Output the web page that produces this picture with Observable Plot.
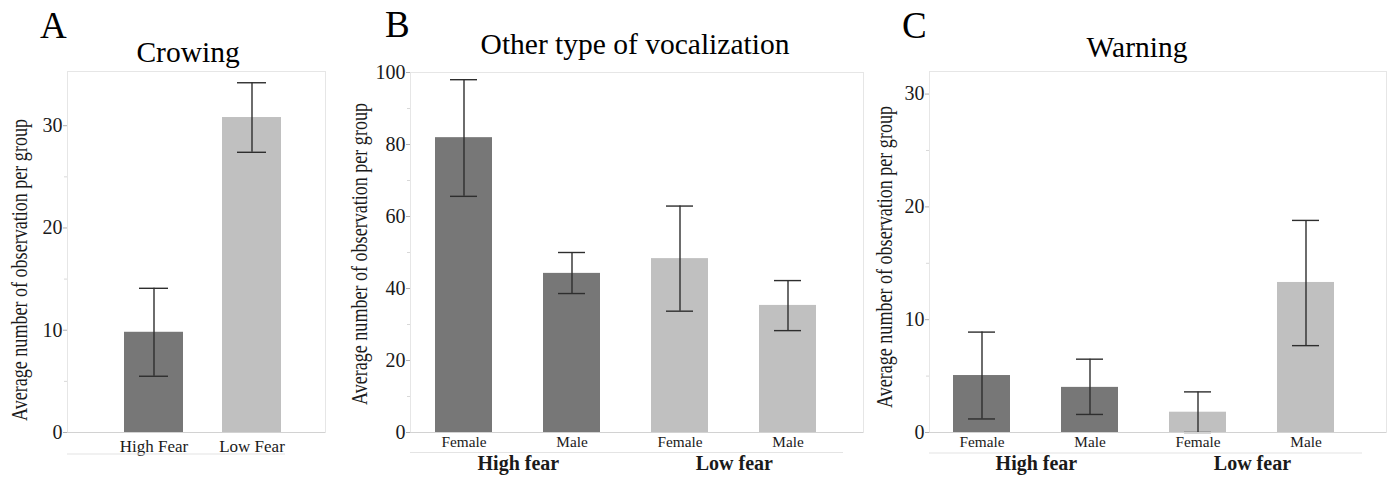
<!DOCTYPE html>
<html>
<head>
<meta charset="utf-8">
<script src="https://cdn.jsdelivr.net/npm/d3@7"></script>
<script src="https://cdn.jsdelivr.net/npm/@observablehq/plot@0.6"></script>
<style>
  html, body { margin: 0; padding: 0; background: #ffffff; }
  #root { position: relative; width: 1392px; height: 477px; overflow: hidden; background: #ffffff; }
  #root > svg { position: absolute; left: 0; top: 0; }
</style>
</head>
<body>
<div id="root"></div>
<script>
// ---------------- data ----------------
const panelLetters = ["A", "B", "C"];
const panelTitles = ["Crowing", "Other type of vocalization", "Warning"];
const yLabel = "Average number of observation per group";

// Panel A: Crowing
const crowingCats = ["High Fear", "Low Fear"];
const crowingFear = ["High", "Low"];
const crowingMean = [9.8, 30.8];
const crowingLow = [5.5, 27.4];
const crowingHigh = [14.1, 34.2];
const crowingTicks = [0, 10, 20, 30];
const crowingMinor = [5, 15, 25];

// Panels B and C: grouped by fear level and sex
const fearGroups = ["High fear", "Low fear"];
const sexes = ["Female", "Male"];

const otherMean = [81.9, 44.2, 48.3, 35.3];
const otherLow = [65.6, 38.6, 33.7, 28.3];
const otherHigh = [98.0, 50.0, 62.9, 42.2];
const otherTicks = [0, 20, 40, 60, 80, 100];
const otherMinor = [10, 30, 50, 70, 90];

const warningMean = [5.05, 4.0, 1.8, 13.3];
const warningLow = [1.2, 1.6, 0.0, 7.7];
const warningHigh = [8.9, 6.5, 3.6, 18.8];
const warningTicks = [0, 10, 20, 30];
const warningMinor = [5, 15, 25];

const fearShades = ["#777777", "#c0c0c0"];
// --------------------------------------

const W = 1392, H = 477;
const serif = "Liberation Serif, Times New Roman, serif";
const ink = "#1a1a1a";
const errColor = "#2e2e2e";

function groupedRows(mean, low, high) {
  const rows = [];
  fearGroups.forEach((g, gi) => sexes.forEach((s, si) => {
    const i = gi * sexes.length + si;
    rows.push({key: g + "|" + s, fear: g.split(" ")[0], sex: s, group: g, mean: mean[i], low: low[i], high: high[i]});
  }));
  return rows;
}

function makePanel(cfg) {
  const {rows, keys, yDomain, yTicks, yMinor, frame, xRange, paddingInner, capInset,
         xFont, xPad, tickFormat, groups} = cfg;
  const step = (xRange[1] - xRange[0]) / keys.length;
  const marks = [
    Plot.frame({stroke: "#e6e6e6"}),
    Plot.barY(rows, {x: "key", y: "mean", fill: "fear"}),
    Plot.ruleX(rows, {x: "key", y1: "low", y2: "high", stroke: errColor, strokeWidth: 1.4}),
    Plot.tickY(rows, {x: "key", y: "low", insetLeft: capInset, insetRight: capInset, stroke: errColor, strokeWidth: 1.4}),
    Plot.tickY(rows, {x: "key", y: "high", insetLeft: capInset, insetRight: capInset, stroke: errColor, strokeWidth: 1.4}),
    Plot.ruleY([0], {stroke: "#d2d2d2", strokeWidth: 1.2}),
    Plot.axisY({ticks: yMinor, tickSize: 3, tickFormat: () => "", stroke: "#d8d8d8", label: null}),
    Plot.axisY({ticks: yTicks, tickSize: 4, tickPadding: 1, fontSize: 20, stroke: "#b0b0b0", fill: ink, label: null}),
    Plot.axisX({tickSize: 0, tickPadding: xPad, fontSize: xFont, fill: ink, tickFormat, label: null})
  ];
  if (groups) {
    marks.push(Plot.text(groups, {x: "key", text: "group", frameAnchor: "bottom", dx: step / 2, dy: 37,
      fontWeight: "bold", fontSize: 20, fill: ink}));
  }
  return Plot.plot({
    width: W, height: H,
    marginLeft: frame.left, marginRight: W - frame.right,
    marginTop: frame.top, marginBottom: H - frame.bottom,
    style: {fontFamily: serif, background: "transparent", overflow: "visible", color: ink},
    x: {domain: keys, range: xRange, paddingInner, paddingOuter: paddingInner / 2},
    y: {domain: yDomain},
    color: {type: "ordinal", domain: ["High", "Low"], range: fearShades},
    marks
  });
}

const root = document.getElementById("root");

// Panel A
const rowsA = crowingCats.map((c, i) => ({key: c, fear: crowingFear[i], mean: crowingMean[i], low: crowingLow[i], high: crowingHigh[i]}));
root.appendChild(makePanel({
  rows: rowsA, keys: crowingCats, yDomain: [0, 35.3], yTicks: crowingTicks, yMinor: crowingMinor,
  frame: {left: 67, right: 325, top: 71, bottom: 432},
  xRange: [104.25, 301.25], paddingInner: 0.4, capInset: 15,
  xFont: 17, xPad: 7, tickFormat: d => d
}));

// Panel B
const rowsB = groupedRows(otherMean, otherLow, otherHigh);
const keysB = rowsB.map(d => d.key);
const groupLabels = fearGroups.map(g => ({group: g, key: g + "|" + sexes[0]}));
root.appendChild(makePanel({
  rows: rowsB, keys: keysB, yDomain: [0, 100], yTicks: otherTicks, yMinor: otherMinor,
  frame: {left: 410, right: 863, top: 72, bottom: 432},
  xRange: [407.8, 842.6], paddingInner: 0.476, capInset: 15,
  xFont: 15.3, xPad: 4, tickFormat: d => d.split("|")[1], groups: groupLabels
}));

// Panel C
const rowsC = groupedRows(warningMean, warningLow, warningHigh);
const keysC = rowsC.map(d => d.key);
root.appendChild(makePanel({
  rows: rowsC, keys: keysC, yDomain: [0, 32], yTicks: warningTicks, yMinor: warningMinor,
  frame: {left: 929, right: 1386, top: 71, bottom: 432},
  xRange: [926.1, 1361.3], paddingInner: 0.476, capInset: 15,
  xFont: 15.3, xPad: 4, tickFormat: d => d.split("|")[1], groups: groupLabels
}));

// Overlay: panel letters, titles, y-axis labels, separator lines
const ov = d3.select(root).append("svg")
  .attr("width", W).attr("height", H)
  .attr("font-family", serif).style("overflow", "visible");

const letterPos = [[40, 38], [385, 37], [902, 38]];
const titlePos = [[188, 62], [635, 54], [1137, 57]];
const yLabelPos = [[27, 270], [367, 254], [892, 257]];
const sepLines = [[67, 285, 454], [410, 843, 452.5], [929, 1362, 453]];

panelLetters.forEach((t, i) => {
  ov.append("text").attr("x", letterPos[i][0]).attr("y", letterPos[i][1])
    .attr("font-family", serif).attr("font-size", 37).attr("fill", "#000").text(t);
});
panelTitles.forEach((t, i) => {
  ov.append("text").attr("x", titlePos[i][0]).attr("y", titlePos[i][1])
    .attr("font-family", serif).attr("text-anchor", "middle").attr("font-size", 29.5).attr("fill", "#000").text(t);
});
yLabelPos.forEach(([x, y]) => {
  ov.append("text").attr("transform", `translate(${x},${y}) rotate(-90)`)
    .attr("font-family", serif).attr("text-anchor", "middle").attr("font-size", 23).attr("fill", ink)
    .attr("textLength", 302).attr("lengthAdjust", "spacingAndGlyphs").text(yLabel);
});
sepLines.forEach(([x1, x2, y]) => {
  ov.append("line").attr("x1", x1).attr("x2", x2).attr("y1", y).attr("y2", y)
    .attr("stroke", "#e4e4e4").attr("stroke-width", 1.2);
});
</script>
</body>
</html>
